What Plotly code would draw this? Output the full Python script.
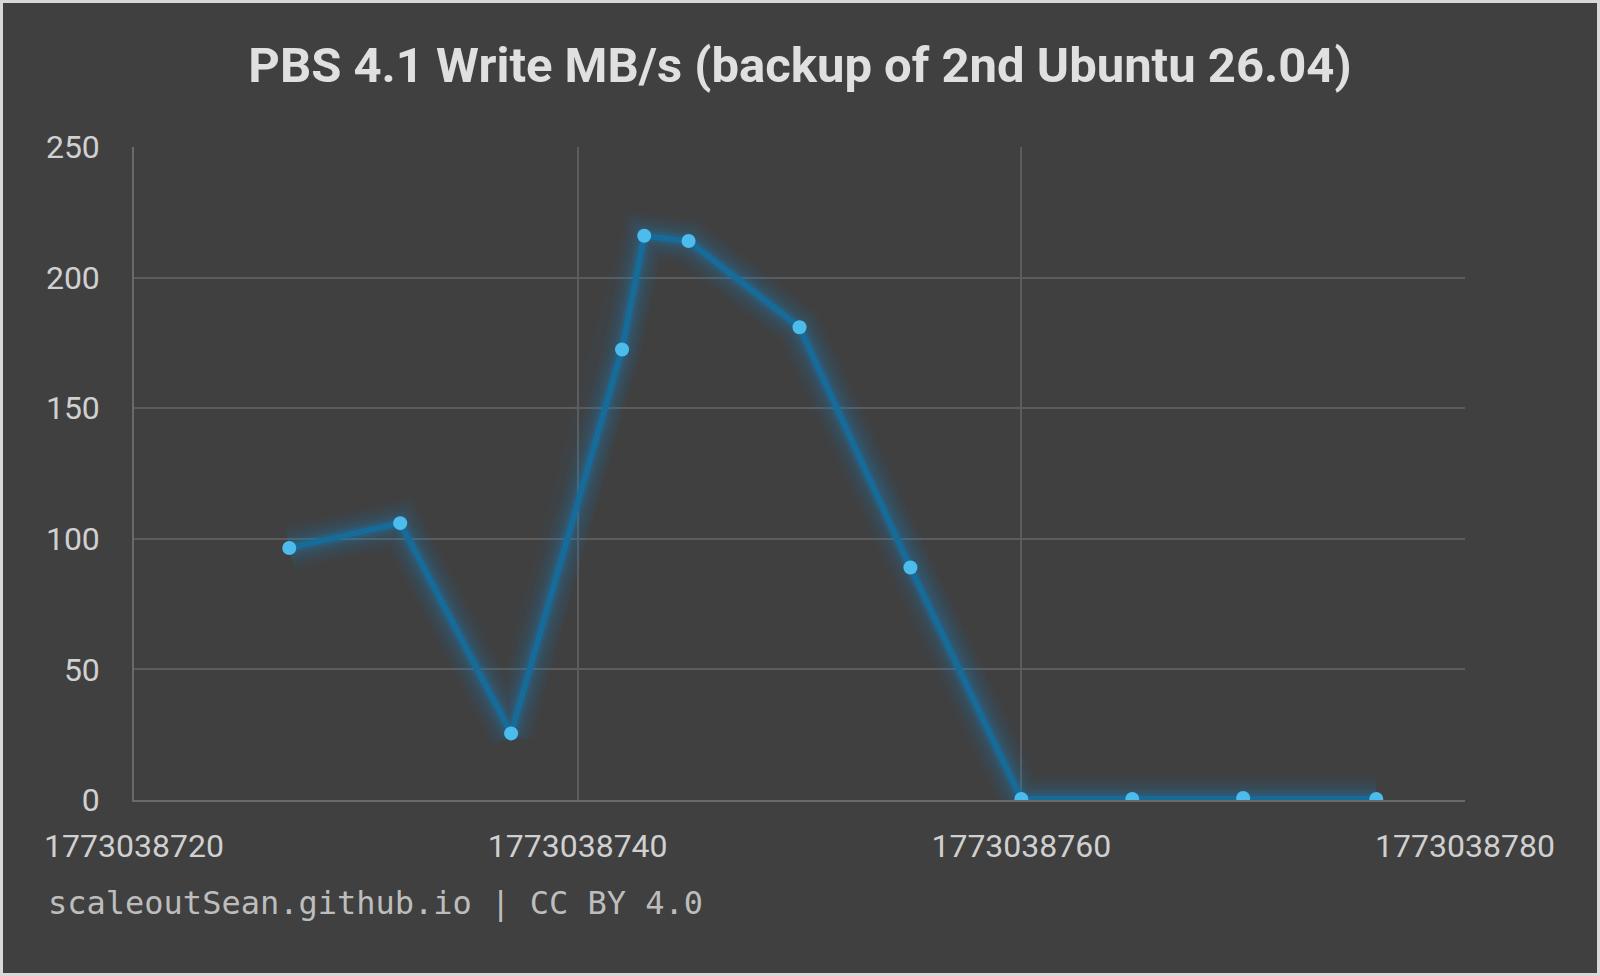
import plotly.graph_objects as go

times = [1773038727, 1773038732, 1773038737, 1773038742, 1773038743, 1773038745,
         1773038750, 1773038755, 1773038760, 1773038765, 1773038770, 1773038776]
write_mbs = [96.5, 106, 25.5, 172.5, 216, 214, 181, 89, 0.4, 0.4, 0.8, 0.4]

x_ticks = [1773038720, 1773038740, 1773038760, 1773038780]
y_ticks = [0, 50, 100, 150, 200, 250]

title_text = "PBS 4.1 Write MB/s (backup of 2nd Ubuntu 26.04)"
watermark = "scaleoutSean.github.io | CC BY 4.0"

W, H = 1600, 976
ML, MR, MT, MB = 134, 135, 147, 176
PW, PH = W - ML - MR, H - MT - MB

fig = go.Figure()

# soft glow layers
for w, a in [(46, 0.04), (38, 0.05), (30, 0.065), (22, 0.085), (16, 0.11), (11, 0.16)]:
    fig.add_trace(go.Scatter(x=times, y=write_mbs, mode="lines",
                             line=dict(color=f"rgba(25,130,195,{a})", width=w),
                             hoverinfo="skip", showlegend=False))
fig.add_trace(go.Scatter(x=times, y=write_mbs, mode="lines+markers",
                         line=dict(color="#176b98", width=6),
                         marker=dict(color="#4cbcec", size=14, line=dict(width=0)),
                         showlegend=False))

fig.update_layout(
    width=W, height=H,
    paper_bgcolor="#404040", plot_bgcolor="#404040",
    margin=dict(l=ML, r=MR, t=MT, b=MB),
    title=dict(text=f"<b>{title_text}</b>", x=0.5, xanchor="center", y=1 - 65 / H, yanchor="middle",
               font=dict(family="Roboto", size=49, color="#e0e0e0")),
    font=dict(family="Roboto", color="#cfcfcf"),
    xaxis=dict(range=[x_ticks[0], x_ticks[-1]], tickmode="array", tickvals=x_ticks,
               ticktext=[str(t) for t in x_ticks], showgrid=True, gridcolor="#5c5c5c", gridwidth=1.5,
               zeroline=False, showline=True, linecolor="#6a6a6a", linewidth=1.5,
               tickfont=dict(size=32, color="#d0d0d0"), ticks="", ticklabelstandoff=17),
    yaxis=dict(range=[0, 250], tickmode="array", tickvals=y_ticks, showgrid=True,
               gridcolor="#5c5c5c", gridwidth=1.5, zeroline=False, showline=True,
               linecolor="#6a6a6a", linewidth=1.5, tickfont=dict(size=32, color="#d0d0d0"),
               ticks="", ticklabelstandoff=26),
    shapes=[dict(type="rect", xref="paper", yref="paper",
                 x0=-ML / PW, x1=1 + MR / PW, y0=-MB / PH, y1=1 + MT / PH,
                 line=dict(color="#d8d8d8", width=6), fillcolor="rgba(0,0,0,0)", layer="above")],
    annotations=[dict(text=watermark, xref="paper", yref="paper", x=-(ML - 46) / PW, y=-103 / PH,
                      xanchor="left", yanchor="middle", showarrow=False,
                      font=dict(family="DejaVu Sans Mono", size=32, color="#bdbdbd"))],
)

fig.write_html("out.html", config={"displayModeBar": False},
               post_script="document.body.style.margin='0';")
